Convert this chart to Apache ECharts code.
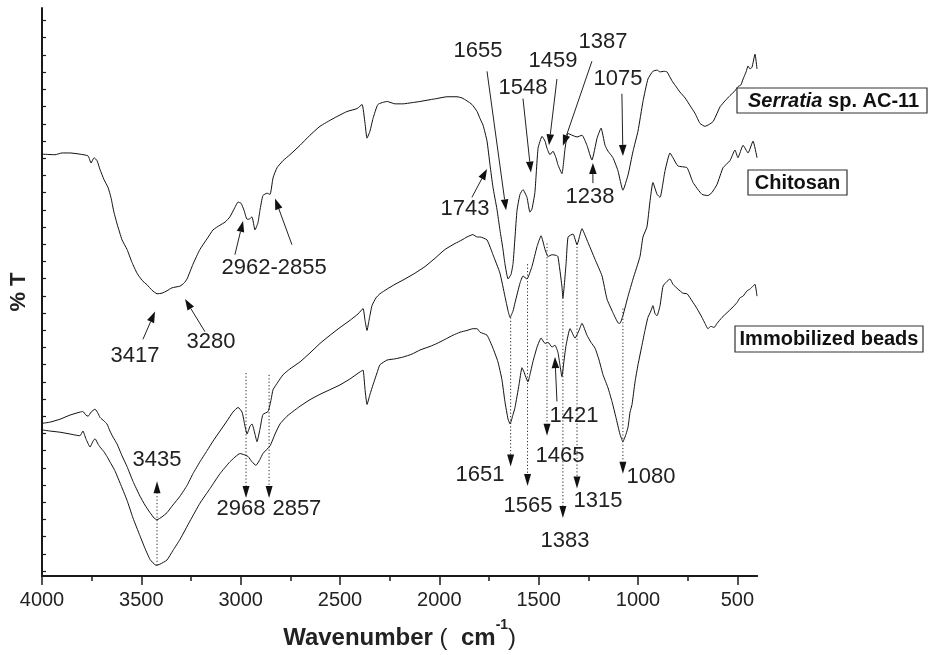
<!DOCTYPE html>
<html>
<head>
<meta charset="utf-8">
<script src="https://cdn.jsdelivr.net/npm/echarts@6.0.0/dist/echarts.min.js"></script>
<style>
html,body{margin:0;padding:0;background:#fff;}
#chart{width:929px;height:655px;}
</style>
</head>
<body>
<div id="chart"></div>
<script>
// ---- Data (wavenumber in cm-1, transmittance in arbitrary offset units) ----
const serratiaWn = [4000,3935,3899,3859,3809,3768,3753,3738,3723,3708,3688,3668,3653,3638,3622,3597,3572,3547,3522,3497,3471,3446,3421,3396,3371,3346,3305,3285,3270,3240,3205,3169,3139,3104,3079,3054,3029,3013,2998,2983,2968,2958,2943,2928,2913,2903,2888,2867,2852,2837,2817,2787,2752,2701,2651,2601,2535,2465,2414,2389,2374,2364,2349,2334,2309,2263,2223,2183,2138,2097,2047,2012,1961,1911,1886,1861,1836,1810,1795,1780,1760,1745,1730,1710,1695,1680,1670,1654,1639,1629,1619,1609,1594,1579,1559,1544,1534,1519,1503,1483,1468,1458,1443,1428,1413,1403,1383,1367,1352,1332,1307,1282,1257,1232,1206,1186,1166,1151,1126,1101,1076,1050,1025,1000,975,950,925,904,889,869,854,829,789,763,738,713,688,663,643,622,602,587,562,537,512,497,482,471,456,446,436,426,411,401];
const serratiaT = [71.3,71.2,71.5,71.5,71.3,71.0,69.8,70.7,70.2,68.7,67.0,65.7,64.0,61.5,59.5,56.8,55.2,53.0,51.2,50.0,49.2,48.3,47.7,47.8,48.2,48.7,49.0,49.5,50.2,52.7,55.2,57.0,58.5,59.3,59.8,60.7,62.3,63.2,63.0,61.8,60.3,60.3,60.7,58.5,59.7,61.8,64.3,64.7,64.5,67.3,69.0,70.2,71.2,72.8,74.5,76.0,77.3,78.5,79.0,79.7,76.5,74.0,75.2,77.3,79.7,80.2,79.8,79.8,80.0,80.2,80.5,80.7,81.0,81.0,80.8,80.3,79.7,78.5,77.3,76.2,73.5,69.5,65.7,62.0,58.5,55.3,52.8,50.2,51.0,52.8,57.3,61.8,64.5,65.3,64.0,61.5,62.0,64.8,72.3,74.3,73.5,72.3,71.2,71.8,70.7,69.5,68.0,72.3,74.8,74.5,74.2,74.5,72.8,70.3,74.0,75.7,72.8,71.8,70.7,68.5,65.2,67.8,71.8,75.2,80.2,84.0,85.3,85.5,85.2,85.3,85.2,83.7,81.8,80.8,79.5,78.2,76.5,76.0,76.3,76.8,78.2,79.3,80.3,81.2,82.0,82.7,83.0,84.0,85.2,86.2,85.7,86.0,88.2,85.7];

const chitosanWn = [4000,3960,3909,3859,3809,3794,3779,3768,3753,3733,3718,3708,3688,3673,3658,3643,3622,3597,3572,3542,3507,3482,3456,3436,3421,3396,3371,3341,3305,3270,3240,3205,3169,3139,3104,3069,3039,3013,2993,2978,2968,2953,2943,2928,2918,2903,2888,2862,2847,2837,2812,2787,2752,2701,2651,2601,2550,2500,2450,2409,2384,2374,2364,2354,2339,2319,2299,2263,2223,2173,2122,2072,2022,1971,1921,1886,1861,1831,1810,1795,1760,1730,1695,1670,1654,1644,1629,1619,1594,1579,1559,1534,1508,1488,1468,1453,1433,1413,1403,1383,1378,1362,1352,1327,1307,1282,1257,1216,1181,1156,1126,1101,1091,1076,1050,1025,990,975,955,940,925,904,889,864,839,824,799,753,723,678,648,628,602,572,537,512,497,471,446,421,401];
const chitosanT = [25.8,26.0,26.5,27.2,27.7,27.8,27.2,27.0,27.7,28.2,27.5,26.8,26.2,25.7,24.5,23.5,22.3,20.3,18.5,16.0,13.5,12.0,10.7,9.8,9.5,10.0,10.7,12.0,13.5,15.3,17.3,19.3,21.2,22.8,24.5,26.2,27.7,28.5,27.7,25.3,24.0,25.3,25.7,24.0,22.7,24.8,27.3,27.8,29.8,31.5,32.8,34.0,35.0,36.2,37.7,39.3,40.7,42.0,43.2,44.3,45.2,43.2,41.5,43.2,45.7,47.0,47.7,48.5,49.3,50.2,51.2,52.3,53.7,55.2,56.2,56.8,57.3,57.7,57.3,57.3,56.8,54.3,51.2,47.3,44.8,43.7,44.8,46.2,49.5,50.7,50.2,52.3,55.7,57.5,55.2,54.0,54.3,54.2,54.0,49.0,47.0,52.8,57.3,57.8,56.0,58.7,56.8,53.5,50.7,46.8,44.5,42.8,42.7,44.0,47.3,50.2,54.0,57.3,59.0,63.2,66.5,64.5,64.0,68.5,71.5,70.7,69.3,69.0,66.5,64.5,64.3,64.8,66.2,69.0,70.2,72.0,70.7,72.8,71.5,73.5,70.7];

const beadsWn = [4000,3960,3909,3859,3809,3794,3779,3758,3743,3733,3718,3708,3688,3673,3653,3633,3607,3572,3542,3507,3482,3456,3426,3406,3371,3341,3305,3255,3205,3154,3104,3054,3003,2983,2963,2943,2923,2903,2888,2852,2827,2802,2767,2737,2701,2651,2601,2550,2500,2450,2399,2384,2374,2364,2349,2334,2314,2299,2263,2223,2183,2138,2097,2047,2012,1971,1931,1896,1861,1831,1810,1795,1760,1730,1705,1685,1670,1654,1644,1629,1619,1599,1584,1574,1554,1544,1529,1508,1488,1468,1453,1433,1418,1403,1393,1383,1372,1362,1342,1317,1297,1282,1257,1237,1216,1196,1176,1151,1131,1111,1091,1076,1060,1050,1040,1030,1015,1000,980,965,950,935,925,914,904,889,874,854,839,824,799,774,753,728,703,678,663,648,633,617,602,577,552,527,502,487,471,451,436,421,411,401];
const beadsT = [24.7,24.5,24.3,24.0,23.7,24.5,23.2,21.8,22.8,23.2,22.3,21.8,21.0,20.2,19.0,17.8,15.7,12.8,9.8,6.8,4.7,2.8,1.8,2.0,2.7,4.3,6.2,9.3,12.3,14.8,17.3,19.3,20.7,20.5,20.2,19.3,18.7,19.7,20.7,22.0,24.0,25.7,27.0,27.8,28.7,29.8,30.7,31.5,32.3,33.3,34.5,34.8,31.5,29.0,30.7,32.3,34.3,35.7,36.5,36.7,37.0,37.5,38.2,38.8,39.3,40.0,40.7,41.2,41.5,41.8,41.8,41.2,40.7,38.5,36.2,33.2,29.5,26.5,25.7,27.3,28.5,32.3,35.2,34.5,32.8,34.0,36.2,38.7,40.2,39.3,39.5,38.7,39.0,37.8,35.7,33.7,36.5,39.0,41.8,40.2,41.5,42.7,40.7,39.5,38.5,36.5,34.0,31.8,29.5,26.8,24.0,22.7,24.0,25.2,27.7,29.0,32.8,35.7,39.0,41.5,43.7,44.8,45.7,44.3,44.0,45.7,49.0,49.8,50.2,49.3,48.5,47.8,47.7,46.5,45.2,43.7,42.7,41.8,42.2,42.0,42.7,43.7,44.5,45.3,46.2,47.0,47.3,48.2,48.5,49.0,49.3,47.3];

// Tick labels
const xTickValues = [4000,3500,3000,2500,2000,1500,1000,500];
const xMinorTickValues = [3750,3250,2750,2250,1750,1250,750];

// Peak annotations (text position and arrow in data coordinates)
const solidNotes = [
  {text:'3417', at:[3532,37.2], arrows:[[[3492,40.0],[3431,44.7]]]},
  {text:'3280', at:[3149,39.5], arrows:[[[3180,41.3],[3280,46.8]]]},
  {text:'2962-2855', at:[2832,52.0], arrows:[[[3029,54.3],[2988,60.0]],[[2742,56.0],[2827,63.8]]]},
  {text:'1743', at:[1871,62.0], arrows:[[[1836,64.0],[1760,68.8]]]},
  {text:'1655', at:[1805,88.7], arrows:[[[1760,85.3],[1664,61.8]]]},
  {text:'1548', at:[1579,82.5], arrows:[[[1579,80.7],[1539,68.2]]]},
  {text:'1459', at:[1428,87.0], arrows:[[[1408,84.0],[1448,72.8]]]},
  {text:'1387', at:[1176,90.2], arrows:[[[1232,87.0],[1378,72.7]]]},
  {text:'1075', at:[1101,84.0], arrows:[[[1081,81.5],[1076,71.0]]]},
  {text:'1238', at:[1242,64.0], arrows:[[[1227,66.4],[1227,69.8]]]},
  {text:'1421', at:[1322,27.0], arrows:[[[1408,29.5],[1418,37.0]]]}
];
const dottedNotes = [
  {text:'3435', at:[3421,19.7], line:[[3421,1.8],[3421,16.0]]},
  {text:'2968', at:[2998,11.3], line:[[2973,34.3],[2973,13.2]]},
  {text:'2857', at:[2717,11.3], line:[[2857,34.0],[2857,13.2]]},
  {text:'1651', at:[1795,17.0], line:[[1641,43.7],[1641,18.5]]},
  {text:'1565', at:[1554,11.8], line:[[1556,52.7],[1556,15.2]]},
  {text:'1465', at:[1393,20.3], line:[[1458,56.2],[1458,23.7]]},
  {text:'1383', at:[1367,6.0], line:[[1378,47.0],[1378,9.8]]},
  {text:'1315', at:[1201,12.7], line:[[1307,56.2],[1307,14.8]]},
  {text:'1080', at:[935,16.7], line:[[1076,45.2],[1076,17.3]]}
];

const FONT = '"Liberation Sans", Arial, Helvetica, sans-serif';
const INK = '#1a1a1a';

function zip(a, b) { return a.map((x, i) => [x, b[i]]); }

// y ticks (no labels) – evenly spaced
const yTickValues = [];
for (let k = 0; k < 33; k++) yTickValues.push(+(93.88 - 2.908 * k).toFixed(3));

const chart = echarts.init(document.getElementById('chart'));

const seriesStyle = {type:'line', showSymbol:false, symbol:'none', smooth:0.15, xAxisIndex:0, yAxisIndex:0,
  lineStyle:{color:'#111', width:1}, silent:true, animation:false};

chart.setOption({
  animation:false,
  backgroundColor:'#fff',
  grid:{left:42, right:171.8, top:8, bottom:71, containLabel:false},
  xAxis:[{
    type:'value', min:400, max:4000, inverse:true, position:'bottom',
    axisLine:{show:true, onZero:false, lineStyle:{color:INK, width:2}},
    axisTick:{show:true, inside:false, length:9, customValues:xTickValues, lineStyle:{color:INK, width:1.5}},
    axisLabel:{show:true, customValues:xTickValues, margin:14, fontSize:20, fontFamily:FONT, color:'#222',
      formatter: v => String(v)},
    splitLine:{show:false},
    name:'{b|Wavenumber}{p| (  }{b|cm}{s|-1}{p|)}',
    nameLocation:'middle', nameGap:42,
    nameTextStyle:{
      rich:{
        b:{fontSize:24, fontWeight:'bold', fontFamily:FONT, color:'#222', lineHeight:40},
        p:{fontSize:24, fontWeight:'normal', fontFamily:FONT, color:'#222', lineHeight:40},
        s:{fontSize:14, fontWeight:'bold', fontFamily:FONT, color:'#222', lineHeight:14, verticalAlign:'top'}
      }
    }
  },{
    type:'value', min:400, max:4000, inverse:true, position:'bottom',
    axisLine:{show:false, onZero:false},
    axisTick:{show:true, inside:false, length:5, customValues:xMinorTickValues, lineStyle:{color:INK, width:1.5}},
    axisLabel:{show:false},
    splitLine:{show:false}
  }],
  yAxis:{
    type:'value', min:0, max:96,
    axisLine:{show:true, lineStyle:{color:INK, width:2}},
    axisTick:{show:true, inside:true, length:4, customValues:yTickValues, lineStyle:{color:INK, width:1.2}},
    axisLabel:{show:false},
    splitLine:{show:false},
    name:'% T', nameLocation:'middle', nameGap:12, nameRotate:90,
    nameTextStyle:{fontSize:22, fontWeight:'bold', fontFamily:FONT, color:'#222'}
  },
  series:[
    Object.assign({name:'Serratia sp. AC-11', data:zip(serratiaWn, serratiaT)}, seriesStyle),
    Object.assign({name:'Chitosan', data:zip(chitosanWn, chitosanT)}, seriesStyle),
    Object.assign({name:'Immobilized beads', data:zip(beadsWn, beadsT)}, seriesStyle)
  ]
});

// ---- annotations (converted through the chart's own scales) ----
const els = [];
function toPx(p) { return chart.convertToPixel({xAxisIndex:0, yAxisIndex:0}, p); }
function addText(str, p) {
  const q = toPx(p);
  els.push({type:'text', x:q[0], y:q[1], z:10, silent:true,
    style:{text:str, fontSize:22, fontFamily:FONT, fill:'#222',
      align:'center', verticalAlign:'middle', textAlign:'center', textVerticalAlign:'middle'}});
}
function addArrow(from, to, dotted, hl, hw) {
  const a = toPx(from), b = toPx(to);
  const dx = b[0] - a[0], dy = b[1] - a[1];
  const L = Math.hypot(dx, dy) || 1, ux = dx / L, uy = dy / L;
  const bx = b[0] - ux * hl, by = b[1] - uy * hl;
  els.push({type:'line', z:10, silent:true, shape:{x1:a[0], y1:a[1], x2:bx, y2:by},
    style:{stroke:'#222', lineWidth:1, lineDash: dotted ? [1.2, 2.2] : null}});
  els.push({type:'polygon', z:10, silent:true,
    shape:{points:[[b[0], b[1]], [bx - uy * hw, by + ux * hw], [bx + uy * hw, by - ux * hw]]},
    style:{fill:'#111'}});
}
solidNotes.forEach(n => {
  addText(n.text, n.at);
  n.arrows.forEach(ar => addArrow(ar[0], ar[1], false, 11, 3.8));
});
dottedNotes.forEach(n => {
  addText(n.text, n.at);
  addArrow(n.line[0], n.line[1], true, 12, 3.5);
});

// ---- boxed curve labels ----
function addBox(x, y, w, h) {
  els.push({type:'rect', z:11, silent:true, shape:{x:x, y:y, width:w, height:h},
    style:{fill:'#fff', stroke:'#333', lineWidth:1.2}});
}
addBox(737, 88, 190, 25);
els.push({type:'text', z:12, silent:true, x:748, y:101,
  style:{text:'{i|Serratia}{n| sp. AC-11}', align:'left', verticalAlign:'middle', textAlign:'left', textVerticalAlign:'middle',
    rich:{i:{fontSize:20, fontWeight:'bold', fontStyle:'italic', fontFamily:FONT, fill:'#111'},
          n:{fontSize:20, fontWeight:'bold', fontFamily:FONT, fill:'#111'}}}});
addBox(748, 170, 99, 25);
els.push({type:'text', z:12, silent:true, x:797.5, y:183,
  style:{text:'Chitosan', fontSize:20, fontWeight:'bold', fontFamily:FONT, fill:'#111',
    align:'center', verticalAlign:'middle', textAlign:'center', textVerticalAlign:'middle'}});
addBox(735, 326, 188, 26);
els.push({type:'text', z:12, silent:true, x:829, y:339.5,
  style:{text:'Immobilized beads', fontSize:20, fontWeight:'bold', fontFamily:FONT, fill:'#111',
    align:'center', verticalAlign:'middle', textAlign:'center', textVerticalAlign:'middle'}});

chart.setOption({graphic:{elements:els}});
</script>
</body>
</html>
